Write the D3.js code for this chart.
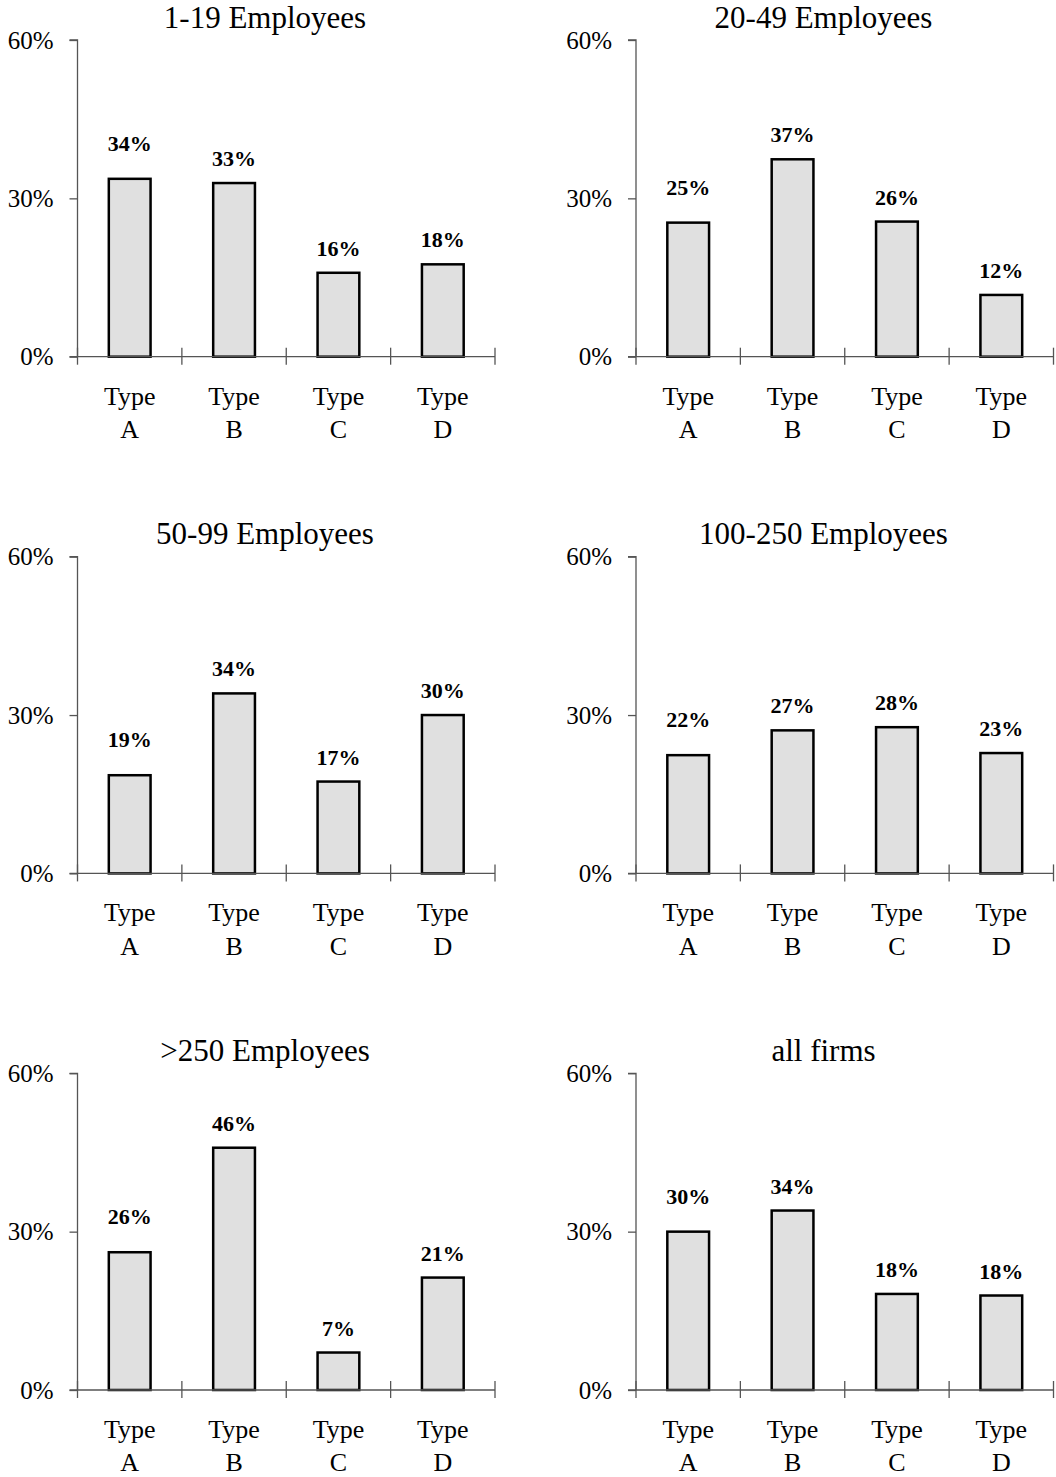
<!DOCTYPE html>
<html>
<head>
<meta charset="utf-8">
<script src="https://cdn.jsdelivr.net/npm/d3@7"></script>
<style>
  body { margin: 0; background: #fff; }
  svg { display: block; }
  text { font-family: "Liberation Serif", "Times New Roman", serif; fill: #000; }
</style>
</head>
<body>
<div id="chart"></div>
<script>
// categories and tick values
var categories = ["A", "B", "C", "D"];
var yTicks = [0, 30, 60];

// panel titles
var titles = ["1-19 Employees", "20-49 Employees", "50-99 Employees",
              "100-250 Employees", ">250 Employees", "all firms"];

// series values (percent), one array per panel
var emp1_19    = [33.7, 32.9, 15.9, 17.5];
var emp20_49   = [25.4, 37.4, 25.6, 11.7];
var emp50_99   = [18.6, 34.1, 17.4, 30.0];
var emp100_250 = [22.4, 27.1, 27.7, 22.8];
var emp250     = [26.1, 45.9, 7.1, 21.3];
var allFirms   = [30.0, 34.0, 18.2, 17.9];

// printed labels above bars
var labels1_19    = ["34%", "33%", "16%", "18%"];
var labels20_49   = ["25%", "37%", "26%", "12%"];
var labels50_99   = ["19%", "34%", "17%", "30%"];
var labels100_250 = ["22%", "27%", "28%", "23%"];
var labels250     = ["26%", "46%", "7%", "21%"];
var labelsAll     = ["30%", "34%", "18%", "18%"];

var seriesList = [emp1_19, emp20_49, emp50_99, emp100_250, emp250, allFirms];
var labelList = [labels1_19, labels20_49, labels50_99, labels100_250, labels250, labelsAll];

var W = 1056, H = 1477;
var colX = [77.5, 636];
var rowTop = [40, 556.7, 1073.3];
var plotW = 417.5, plotH = 316.7;

var svg = d3.select("#chart").append("svg")
    .attr("width", W)
    .attr("height", H);

function panel(idx) {
    var left = colX[idx % 2];
    var top = rowTop[Math.floor(idx / 2)];
    var values = seriesList[idx];
    var labs = labelList[idx];

    var x = d3.scaleBand()
        .domain(categories)
        .range([0, plotW])
        .paddingInner(0.6)
        .paddingOuter(0.3);
    var y = d3.scaleLinear()
        .domain([0, 60])
        .range([plotH, 0]);

    var g = svg.append("g")
        .attr("transform", "translate(" + left + "," + top + ")");

    // title
    g.append("text")
        .attr("x", 187.5)
        .attr("y", -12.5)
        .attr("text-anchor", "middle")
        .style("font-size", "31px")
        .text(titles[idx]);

    // y axis
    var yAxis = d3.axisLeft(y)
        .tickValues(yTicks)
        .tickSize(8)
        .tickPadding(16)
        .tickFormat(function(d) { return d + "%"; });
    var ya = g.append("g").call(yAxis);
    ya.select(".domain").attr("stroke", "#555").attr("stroke-width", 1.3)
        .attr("d", "M-8," + y(60) + "H0V" + y(0));
    ya.selectAll(".tick line").attr("stroke", "#555").attr("stroke-width", 1.3);
    ya.selectAll(".tick text")
        .style("font-size", "25px")
        .style("font-family", "'Liberation Serif', 'Times New Roman', serif")
        .attr("dy", "0.33em")
        .attr("fill", "#000");

    // bars
    g.selectAll("rect.bar")
        .data(values)
        .enter()
        .append("rect")
        .attr("class", "bar")
        .attr("x", function(d, i) { return x(categories[i]); })
        .attr("y", function(d) { return y(d); })
        .attr("width", x.bandwidth())
        .attr("height", function(d) { return y(0) - y(d); })
        .attr("fill", "#e0e0e0")
        .attr("stroke", "#000")
        .attr("stroke-width", 2.5);

    // x axis line with category boundary ticks
    g.append("line")
        .attr("x1", -8).attr("x2", plotW)
        .attr("y1", y(0)).attr("y2", y(0))
        .attr("stroke", "#555").attr("stroke-width", 1.3);
    var bounds = d3.range(categories.length + 1).map(function(i) { return i * x.step(); });
    g.selectAll("line.xtick")
        .data(bounds)
        .enter()
        .append("line")
        .attr("class", "xtick")
        .attr("x1", function(d) { return d; })
        .attr("x2", function(d) { return d; })
        .attr("y1", y(0) - 9)
        .attr("y2", y(0) + 8)
        .attr("stroke", "#555").attr("stroke-width", 1.3);

    // value labels
    g.selectAll("text.val")
        .data(values)
        .enter()
        .append("text")
        .attr("class", "val")
        .attr("x", function(d, i) { return x(categories[i]) + x.bandwidth() / 2; })
        .attr("y", function(d, i) { return y(d) - (i === 0 ? 28 : 17); })
        .attr("text-anchor", "middle")
        .style("font-size", "22px")
        .style("font-weight", "bold")
        .text(function(d, i) { return labs[i]; });

    // category labels
    var cat = g.selectAll("text.cat")
        .data(categories)
        .enter()
        .append("text")
        .attr("class", "cat")
        .attr("text-anchor", "middle")
        .style("font-size", "26px");
    cat.append("tspan")
        .attr("x", function(d) { return x(d) + x.bandwidth() / 2; })
        .attr("y", y(0) + 48)
        .text("Type");
    cat.append("tspan")
        .attr("x", function(d) { return x(d) + x.bandwidth() / 2; })
        .attr("y", y(0) + 81.5)
        .text(function(d) { return d; });
}

for (var i = 0; i < titles.length; i++) {
    panel(i);
}
</script>
</body>
</html>
